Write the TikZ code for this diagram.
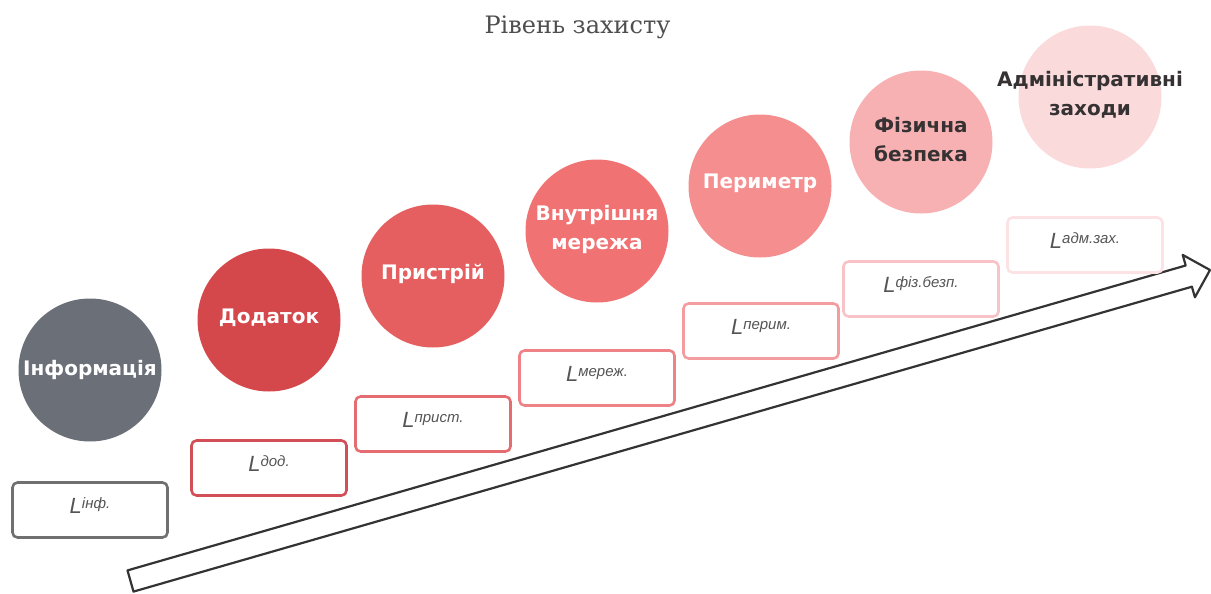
\documentclass[tikz,border=0pt]{standalone}
\usepackage{fontspec}
\setmainfont{DejaVu Sans}
\newfontfamily\discfont{DejaVu Sans}
\newfontfamily\headfont{DejaVu Serif}
\newfontfamily\symfont{Liberation Sans}
\usetikzlibrary{calc}

% fill colours of the level discs, from core to outer layer
\definecolor{lvA}{HTML}{6A6F78}
\definecolor{lvB}{HTML}{D4474B}
\definecolor{lvC}{HTML}{E55F60}
\definecolor{lvD}{HTML}{F07273}
\definecolor{lvE}{HTML}{F48E8F}
\definecolor{lvF}{HTML}{F7B1B3}
\definecolor{lvG}{HTML}{FBDADC}
% frame colours of the symbol boxes
\definecolor{bxA}{HTML}{707070}
\definecolor{bxB}{HTML}{D24F57}
\definecolor{bxC}{HTML}{E56C70}
\definecolor{bxD}{HTML}{EE8286}
\definecolor{bxE}{HTML}{F39DA1}
\definecolor{bxF}{HTML}{F8C3C6}
\definecolor{bxG}{HTML}{FCE2E4}
\definecolor{darktext}{HTML}{363233}
\definecolor{headgray}{HTML}{4E4E4E}
\definecolor{symgray}{HTML}{555555}
\definecolor{arrowgray}{HTML}{333333}

% level symbol: italic L with a raised index
\newcommand\levsym[1]{L\raisebox{2.5pt}{\fontsize{7.5}{8}\selectfont #1}}

\begin{document}
\begin{tikzpicture}[x=0.5pt,y=-0.5pt,
  disc/.style={circle, minimum size=71.5pt, inner sep=0pt},
  disctext/.style={align=center, inner sep=0pt,
    font=\discfont\bfseries\fontsize{10}{14.5}\selectfont, text=white},
  levelbox/.style={draw, rounded corners=2.5pt, line width=1.3pt, fill=white,
    minimum width=77.5pt, minimum height=27.5pt, inner sep=0pt,
    text height=6pt, text depth=3pt,
    font=\symfont\itshape\fontsize{11}{12}\selectfont, text=symgray},
  arrowline/.style={draw=arrowgray, line width=1.1pt, line join=round, fill=white}
]
\useasboundingbox (0,0) rectangle (1211,594);

% heading
\node[font=\headfont\fontsize{12}{14}\selectfont, text=headgray, anchor=base]
  (head) at (577.5,33) {Рівень захисту};

% rising arrow of the protection level
\coordinate (tailT) at (127.5,570.4);
\coordinate (tailB) at (133.5,591.6);
\coordinate (neckT) at (1185.7,265.5);
\coordinate (neckB) at (1191.9,286.7);
\coordinate (barbT) at (1182.7,254.9);
\coordinate (barbB) at (1194.9,297.3);
\coordinate (tip)   at (1210,270);
\draw[arrowline] (tailT) -- (neckT) -- (barbT) -- (tip) -- (barbB) -- (neckB)
  -- (tailB) -- cycle;

% protection layers
\node[disc, fill=lvA] (c1) at (90,370)  {};
\node[disc, fill=lvB] (c2) at (269,320) {};
\node[disc, fill=lvC] (c3) at (433,276) {};
\node[disc, fill=lvD] (c4) at (597,231) {};
\node[disc, fill=lvE] (c5) at (760,186) {};
\node[disc, fill=lvF] (c6) at (921,142) {};
\node[disc, fill=lvG] (c7) at (1090,97) {};

\node[disctext] (t1) at (c1.center) {Інформація};
\node[disctext] (t2) at ([yshift=1pt]c2.center) {Додаток};
\node[disctext] (t3) at ([yshift=1pt]c3.center) {Пристрій};
\node[disctext] (t4) at ([yshift=1pt]c4.center) {Внутрішня\\мережа};
\node[disctext] (t5) at ([yshift=1.5pt]c5.center) {Периметр};
\node[disctext, text=darktext] (t6) at ([yshift=1pt]c6.center) {Фізична\\безпека};
\node[disctext, text=darktext] (t7) at ([yshift=1pt]c7.center) {Адміністративні\\заходи};

% level symbols
\node[levelbox, draw=bxA] (b1) at (90,510)   {\levsym{інф.}};
\node[levelbox, draw=bxB] (b2) at (269,468)  {\levsym{дод.}};
\node[levelbox, draw=bxC] (b3) at (433,424)  {\levsym{прист.}};
\node[levelbox, draw=bxD] (b4) at (597,378)  {\levsym{мереж.}};
\node[levelbox, draw=bxE] (b5) at (761,331)  {\levsym{перим.}};
\node[levelbox, draw=bxF] (b6) at (921,289)  {\levsym{фіз.безп.}};
\node[levelbox, draw=bxG] (b7) at (1085,245) {\levsym{адм.зах.}};
\end{tikzpicture}
\end{document}
